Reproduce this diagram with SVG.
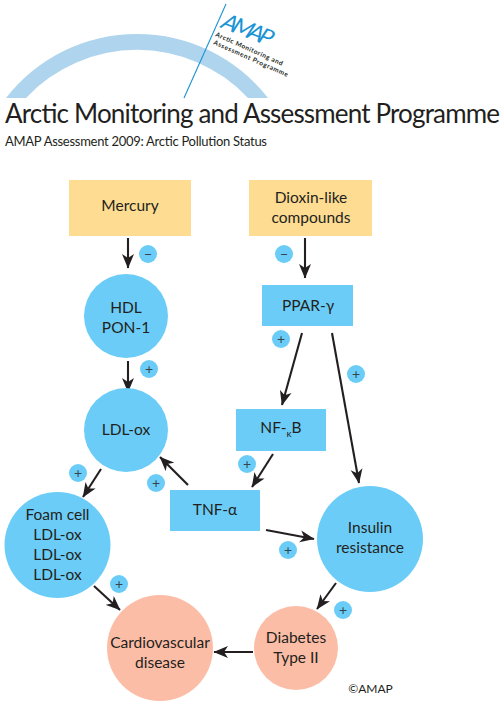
<svg xmlns="http://www.w3.org/2000/svg" width="504" height="702" viewBox="0 0 504 702">
<style>
text{font-family:"Lato","Open Sans","Liberation Sans",sans-serif;fill:#231f20;text-anchor:middle}
.t{font-size:15.5px}
.b{fill:#6bcdf7}
.y{fill:#fedc92}
.p{fill:#fcbda6}
.s{font-size:14px;fill:#33444f}
.c line{stroke:#231f20;stroke-width:2.100;marker-end:url(#a)}
</style>
<defs>
<marker id="a" markerUnits="userSpaceOnUse" markerWidth="15" markerHeight="13" refX="14" refY="6.500" orient="auto" viewBox="0 0 15 13"><path d="M0 0.500L14.500 6.500L0 12.500L4 6.500Z" fill="#231f20"/></marker>
</defs>
<rect width="504" height="702" fill="#fff"/>
<g id="logo">
<path d="M6 98A166 166 0 0 1 268 98H248A152 152 0 0 0 26 98Z" fill="#afd5ee"/>
<line x1="226" y1="4" x2="184" y2="98" stroke="#1a94d4" stroke-width="1.100"/>
<text transform="translate(219 27) rotate(21) skewX(-12)" style="text-anchor:start;font-size:22.500px;fill:#1a94d4" textLength="53">AMAP</text>
<text transform="translate(215 36) rotate(24)" style="text-anchor:start;font-size:6.500px;font-weight:700" textLength="73">Arctic Monitoring and</text>
<text transform="translate(213 44) rotate(24)" style="text-anchor:start;font-size:6.500px;font-weight:700" textLength="81">Assessment Programme</text>
<text x="5" y="123" style="text-anchor:start;font-size:26px" textLength="495">Arctic Monitoring and Assessment Programme</text>
<text x="5" y="146" style="text-anchor:start;font-size:13px" textLength="262">AMAP Assessment 2009: Arctic Pollution Status</text>
</g>
<g id="connectors" class="c">
<line x1="128" y1="238" x2="128" y2="268"/>
<line x1="305" y1="238" x2="305" y2="278"/>
<line x1="128" y1="361" x2="128" y2="392"/>
<line x1="302" y1="333" x2="282" y2="405"/>
<line x1="332" y1="333" x2="359" y2="483"/>
<line x1="273" y1="454" x2="252" y2="487"/>
<line x1="188" y1="485" x2="160" y2="457"/>
<line x1="101" y1="469" x2="83" y2="497"/>
<line x1="94" y1="586" x2="120" y2="610"/>
<line x1="266" y1="530" x2="314" y2="539"/>
<line x1="336" y1="583" x2="317" y2="609"/>
<line x1="253" y1="652" x2="214" y2="652"/>
</g>
<g id="mercury"><rect class="y" x="69" y="180" width="122" height="56"/><text class="t" x="130" y="211">Mercury</text></g>
<g id="dioxin"><rect class="y" x="249" y="180" width="123" height="56"/><text class="t" x="311" y="203">Dioxin-like</text><text class="t" x="311" y="223">compounds</text></g>
<g id="ppar"><rect class="b" x="262" y="285" width="91" height="41"/><text class="t" x="308" y="311">PPAR-γ</text></g>
<g id="hdl"><circle class="b" cx="126" cy="316" r="42"/><text class="t" x="126" y="313">HDL</text><text class="t" x="126" y="333">PON-1</text></g>
<g id="ldl"><circle class="b" cx="126" cy="430" r="42"/><text class="t" x="126" y="435">LDL-ox</text></g>
<g id="nfkb"><rect class="b" x="236" y="409" width="90" height="42"/><text class="t" x="281" y="433">NF-<tspan font-size="10" dy="4">κ</tspan><tspan dy="-4">B</tspan></text></g>
<g id="tnf"><rect class="b" x="170" y="490" width="90" height="41"/><text class="t" x="215" y="515">TNF-α</text></g>
<g id="foam"><circle class="b" cx="57.500" cy="545" r="53"/><text class="t" x="57.500" y="520">Foam cell</text><text class="t" x="57.500" y="540">LDL-ox</text><text class="t" x="57.500" y="560">LDL-ox</text><text class="t" x="57.500" y="580">LDL-ox</text></g>
<g id="insulin"><circle class="b" cx="370" cy="539" r="53"/><text class="t" x="370" y="533">Insulin</text><text class="t" x="370" y="553">resistance</text></g>
<g id="cvd"><circle class="p" cx="160" cy="648" r="53"/><text class="t" x="160" y="648">Cardiovascular</text><text class="t" x="160" y="668">disease</text></g>
<g id="diabetes"><circle class="p" cx="296" cy="648" r="42"/><text class="t" x="296" y="643">Diabetes</text><text class="t" x="296" y="663">Type II</text></g>
<g id="badges">
<circle class="b" cx="148" cy="254" r="9"/><text class="s" x="148" y="258.500">−</text>
<circle class="b" cx="284" cy="254" r="9"/><text class="s" x="284" y="258.500">−</text>
<circle class="b" cx="149" cy="369" r="9"/><text class="s" x="149" y="373.500">+</text>
<circle class="b" cx="281" cy="339" r="9"/><text class="s" x="281" y="343.500">+</text>
<circle class="b" cx="356" cy="374" r="9"/><text class="s" x="356" y="378.500">+</text>
<circle class="b" cx="78" cy="473" r="9"/><text class="s" x="78" y="477.500">+</text>
<circle class="b" cx="156" cy="483" r="9"/><text class="s" x="156" y="487.500">+</text>
<circle class="b" cx="247" cy="464" r="9"/><text class="s" x="247" y="468.500">+</text>
<circle class="b" cx="119" cy="584" r="9"/><text class="s" x="119" y="588.500">+</text>
<circle class="b" cx="288" cy="550" r="9"/><text class="s" x="288" y="554.500">+</text>
<circle class="b" cx="343" cy="610" r="9"/><text class="s" x="343" y="614.500">+</text>
</g>
<text x="370.500" y="693" style="font-size:12px">©AMAP</text>
</svg>
